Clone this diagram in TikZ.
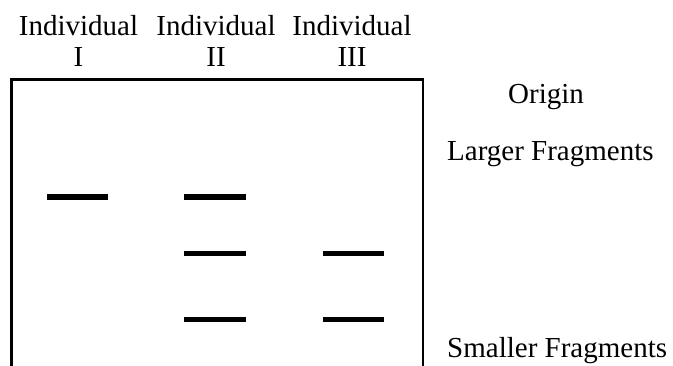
\documentclass[tikz,border=0pt]{standalone}
\usepackage{fontspec}
\setmainfont{Liberation Serif}
\begin{document}
\begin{tikzpicture}[x=1pt,y=-1pt,
  lbl/.style={inner sep=0pt,font=\fontsize{29}{33}\selectfont},
  band/.style={line width=5.5pt},
  gel/.style={line width=2.5pt}]
\useasboundingbox (0,0) rectangle (673,365);
% column headers
\node[lbl,anchor=base] (h1) at (78.5,35) {Individual};
\node[lbl,anchor=base] (n1) at (78.5,66) {I};
\node[lbl,anchor=base] (h2) at (216,35) {Individual};
\node[lbl,anchor=base] (n2) at (216,66) {II};
\node[lbl,anchor=base] (h3) at (352,35) {Individual};
\node[lbl,anchor=base] (n3) at (352,66) {III};
% gel outline (open at bottom)
\coordinate (bl) at (11.5,366);
\coordinate (tl) at (11.5,79.5);
\coordinate (tr) at (423,79.5);
\coordinate (br) at (423,366);
\draw[gel] (bl) -- (tl) -- (tr) -- (br);
% side labels
\node[lbl,anchor=base west] (origin) at (508,103) {Origin};
\node[lbl,anchor=base west] (larger) at (447,160) {Larger Fragments};
\node[lbl,anchor=base west] (smaller) at (447,357) {Smaller Fragments};
% bands
\coordinate (a1) at (47,197);  \coordinate (b1) at (108,197);
\coordinate (a2) at (184,197); \coordinate (b2) at (246,197);
\coordinate (a3) at (184,253.5); \coordinate (b3) at (246,253.5);
\coordinate (a4) at (184,319.5); \coordinate (b4) at (246,319.5);
\coordinate (a5) at (323,253.5); \coordinate (b5) at (384,253.5);
\coordinate (a6) at (323,319.5); \coordinate (b6) at (384,319.5);
\foreach \i in {1,...,6} \draw[band] (a\i) -- (b\i);
\end{tikzpicture}
\end{document}
